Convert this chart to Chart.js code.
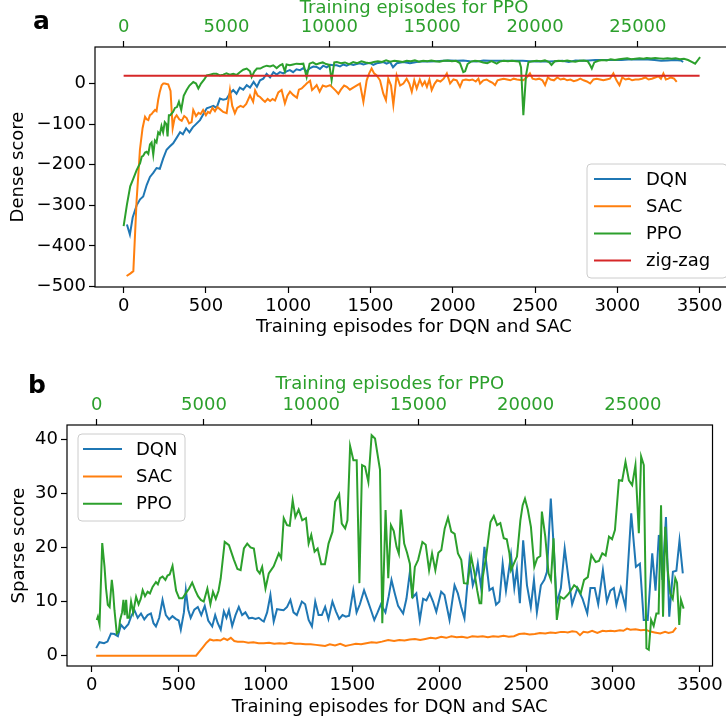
<!DOCTYPE html>
<html>
<head>
<meta charset="utf-8">
<script src="https://cdn.jsdelivr.net/npm/chart.js@4.4.0/dist/chart.umd.min.js"></script>
<style>
html, body { margin: 0; padding: 0; background: #fff; overflow: hidden; width: 726px; height: 721px; }
#denseChart { position: absolute; left: 0; top: 0; }
#sparseChart { position: absolute; left: 0; top: 360px; }
</style>
</head>
<body>
<canvas id="denseChart" width="740" height="340"></canvas>
<canvas id="sparseChart" width="726" height="361"></canvas>
<script>
// ---- panel a : dense score ----
const denseDqnEpisodes = [
  20, 38, 55, 79, 100, 119, 140, 160, 180, 200,
  220, 240, 261, 280, 301, 320, 343, 360, 380, 400,
  420, 440, 464, 485, 505, 525, 545, 565, 585, 605,
  625, 645, 666, 686, 706, 727, 748, 768, 790, 810,
  829, 849, 869, 890, 910, 930, 950, 970, 990, 1010,
  1030, 1050, 1072, 1092, 1112, 1133, 1153, 1173, 1193, 1213,
  1234, 1255, 1275, 1295, 1315, 1335, 1355, 1375, 1396, 1416,
  1436, 1457, 1477, 1497, 1517, 1538, 1558, 1578, 1598, 1619,
  1637, 1660, 1700, 1740, 1780, 1820, 1860, 1900, 1940, 1984,
  2024, 2064, 2104, 2145, 2186, 2226, 2266, 2306, 2346, 2386,
  2426, 2466, 2506, 2546, 2586, 2626, 2666, 2706, 2746, 2786,
  2826, 2866, 2906, 2946, 2986, 3026, 3066, 3106, 3146, 3186,
  3226, 3266, 3306, 3346, 3386, 3400
];
const denseDqnScore = [
  -347, -372, -330, -300, -285, -278, -250, -230, -220, -208,
  -210, -185, -163, -155, -147, -135, -120, -125, -110, -120,
  -108, -100, -90, -75, -61, -58, -55, -60, -37, -40,
  -38, -25, -16, -25, -10, -15, -4, -10, 4, -8,
  8, 12, 24, 15, 28, 22, 28, 25, 30, 33,
  28, 35, 33, 38, 30, 38, 42, 41, 36, 44,
  40, 46, 45, 45, 42, 47, 44, 48, 46, 48,
  50, 47, 49, 51, 46, 50, 51, 53, 49, 53,
  40, 50, 53, 50, 53, 55, 54, 55, 56, 57,
  56, 57, 55, 54, 57, 56, 56, 56, 56, 56,
  56, 55, 54, 55, 54, 55, 56, 53, 57, 56,
  57, 58, 58, 58, 58, 58, 59, 59, 59, 59,
  58, 56, 57, 58, 57, 53
];
const denseSacEpisodes = [
  18, 40, 59, 79, 90, 99, 115, 130, 140, 150,
  160, 170, 180, 191, 200, 210, 220, 231, 241, 251,
  261, 271, 285, 298, 310, 322, 338, 353, 368, 383,
  398, 413, 423, 440, 455, 468, 483, 500, 512, 524,
  540, 555, 570, 585, 605, 626, 646, 660, 676, 690,
  710, 727, 745, 768, 787, 799, 815, 829, 845, 859,
  875, 890, 905, 920, 940, 960, 980, 995, 1011, 1030,
  1053, 1065, 1082, 1100, 1112, 1133, 1145, 1160, 1173, 1191,
  1210, 1230, 1255, 1270, 1290, 1305, 1320, 1340, 1356, 1375,
  1395, 1415, 1436, 1457, 1477, 1492, 1507, 1522, 1538, 1558,
  1578, 1594, 1608, 1625, 1639, 1659, 1680, 1700, 1720, 1736,
  1751, 1766, 1781, 1800, 1815, 1830, 1843, 1858, 1872, 1890,
  1905, 1925, 1945, 1964, 1984, 2004, 2024, 2044, 2060, 2080,
  2100, 2120, 2140, 2156, 2166, 2186, 2206, 2226, 2242, 2257,
  2272, 2290, 2310, 2330, 2350, 2370, 2390, 2410, 2429, 2449,
  2469, 2485, 2505, 2525, 2545, 2561, 2578, 2595, 2615, 2635,
  2655, 2675, 2695, 2715, 2735, 2755, 2775, 2795, 2815, 2835,
  2855, 2875, 2895, 2915, 2935, 2955, 2976, 2995, 3013, 3030,
  3050, 3070, 3090, 3110, 3130, 3150, 3170, 3190, 3210, 3230,
  3250, 3265, 3280, 3295, 3310, 3325, 3345, 3361
];
const denseSacScore = [
  -474, -468, -462, -286, -220, -163, -110, -82, -88, -90,
  -78, -75, -70, -65, -68, -40, -20, -4, 0, 0,
  -1, -2, -18, -110, -85, -78, -88, -92, -80, -85,
  -98, -95, -65, -80, -72, -75, -65, -78, -70, -73,
  -60, -68, -58, -63, -70, -73, -16, -55, -73, -60,
  -55, -58, -50, -29, -45, -17, -30, -33, -40, -45,
  -38, -43, -38, -42, -22, -16, -49, -30, -20, -28,
  -35, -15, -12, -5, 0, 7, -16, -10, -4, -20,
  -5, -8, -4, -10, -18, -25, -15, -5, -8, -15,
  -10, -5, 0, -45, 8, 25, 37, 25, 20, 8,
  -25, -41, 12, -5, -53, 20, -5, 0, 12, 0,
  -20, 8, -12, 10, -5, 5, -8, 10, -16, 0,
  8, 5, 12, 25, 0, 10, 8, -8, 8, 10,
  8, 10, 5, 12, 0, 8, 10, 5, 2, -4,
  8, 10, 12, 10, 8, 12, 10, 9, 8, 15,
  25, 12, 10, 12, 8, -4, 15, 10, 8, 15,
  10, 12, 8, 10, 6, 8, 12, 8, 5, 0,
  10, 12, 10, 8, 10, 12, 25, 8, -4, 15,
  10, 12, 8, 10, 10, 12, 15, 10, 12, 15,
  18, 12, 25, 10, 12, 15, 12, 4
];
// PPO is plotted against its own (top) axis
const densePpoEpisodes = [
  0, 160, 320, 472, 632, 800, 880, 952, 1040, 1120,
  1200, 1280, 1360, 1440, 1520, 1600, 1680, 1760, 1840, 1920,
  2000, 2080, 2136, 2200, 2264, 2400, 2496, 2592, 2688, 2800,
  2920, 3064, 3200, 3384, 3520, 3632, 3760, 3920, 4040, 4200,
  4360, 4520, 4680, 4840, 5000, 5160, 5328, 5488, 5648, 5816,
  5984, 6144, 6224, 6360, 6480, 6640, 6792, 6960, 7120, 7272,
  7440, 7600, 7720, 7840, 7920, 8080, 8240, 8400, 8576, 8736,
  8896, 9040, 9200, 9360, 9520, 9680, 9840, 10000, 10112, 10240,
  10368, 10560, 10760, 10960, 11160, 11360, 11560, 11760, 11960, 12160,
  12360, 12560, 12760, 12960, 13160, 13360, 13560, 13760, 13960, 14160,
  14360, 14560, 14760, 14960, 15160, 15360, 15560, 15760, 15960, 16160,
  16352, 16512, 16600, 16720, 16880, 17080, 17280, 17480, 17680, 17880,
  18136, 18280, 18480, 18680, 18880, 19080, 19240, 19320, 19432, 19560,
  19680, 19880, 20080, 20280, 20480, 20680, 20800, 20960, 21160, 21360,
  21560, 21760, 21960, 22160, 22360, 22560, 22680, 22760, 22880, 23080,
  23280, 23480, 23680, 23880, 24080, 24280, 24480, 24680, 24880, 25080,
  25280, 25432, 25640, 25840, 26040, 26240, 26440, 26640, 26840, 27040,
  27240, 27440, 27640, 27784, 27920, 28024
];
const densePpoScore = [
  -351, -298, -253, -234, -213, -196, -180, -178, -170, -168,
  -173, -150, -145, -175, -140, -145, -120, -125, -105, -120,
  -95, -100, -130, -78, -78, -70, -60, -58, -45, -65,
  -30, -16, -5, 4, 0, -12, 0, 10, 20, 22,
  24, 24, 20, 22, 25, 22, 24, 21, 28, 34,
  37, 30, 16, 30, 37, 37, 41, 44, 42, 45,
  38, 45, 48, 30, 47, 45, 47, 49, 48, 49,
  16, 49, 52, 47, 50, 52, 48, 46, 8, 52,
  53, 50, 52, 48, 53, 50, 55, 52, 50, 53,
  55, 53, 57, 54, 56, 55, 53, 56, 55, 57,
  54, 56, 55, 57, 55, 54, 56, 57, 55, 56,
  50, 28, 30, 48, 54, 56, 55, 52, 50, 55,
  49, 54, 56, 55, 56, 55, 54, 40, -78, 20,
  53, 55, 56, 55, 57, 53, 46, 55, 56, 55,
  57, 55, 54, 56, 57, 55, 45, 37, 52, 56,
  58, 57, 60, 58, 60, 61, 62, 60, 61, 62,
  61, 63, 62, 63, 62, 61, 62, 61, 62, 60,
  61, 58, 53, 49, 58, 65
];
const zigzagEpisodes = [0, 3500];
const zigzagScore = [19, 19];

const denseYTicks = [-500, -400, -300, -200, -100, 0];

// ---- panel b : sparse score ----
const sparseDqnEpisodes = [
  25, 44, 70, 90, 110, 130, 150, 168, 187, 210,
  226, 245, 264, 283, 302, 321, 340, 355, 369, 388,
  407, 426, 445, 464, 483, 500, 512, 530, 541, 555,
  569, 590, 610, 630, 650, 670, 693, 710, 725, 742,
  760, 775, 789, 808, 827, 846, 865, 884, 904, 923,
  942, 961, 980, 990, 1009, 1028, 1047, 1066, 1085, 1104,
  1124, 1143, 1161, 1180, 1209, 1228, 1248, 1267, 1286, 1305,
  1324, 1343, 1362, 1385, 1405, 1424, 1443, 1462, 1481, 1505,
  1524, 1543, 1567, 1590, 1609, 1626, 1645, 1664, 1690, 1709,
  1725, 1744, 1763, 1792, 1811, 1830, 1849, 1868, 1888, 1907,
  1926, 1945, 1964, 1983, 2011, 2030, 2059, 2088, 2107, 2126,
  2145, 2174, 2193, 2212, 2222, 2241, 2260, 2289, 2308, 2327,
  2346, 2365, 2384, 2413, 2432, 2447, 2464, 2483, 2505, 2527,
  2545, 2562, 2585, 2605, 2620, 2642, 2660, 2676, 2700, 2722,
  2745, 2765, 2795, 2825, 2852, 2870, 2895, 2915, 2942, 2965,
  2985, 3005, 3020, 3045, 3072, 3105, 3132, 3155, 3177, 3200,
  3226, 3245, 3264, 3285, 3305, 3324, 3345, 3365, 3383, 3402
];
const sparseDqnScore = [
  1.4, 2.5, 2.3, 2.6, 4.1, 4.0, 3.6, 5.7, 5.0, 5.8,
  7.2, 8.4, 7.0, 7.8, 6.7, 7.5, 7.8, 6.0, 5.4, 7.0,
  10.3, 7.5, 6.7, 7.3, 6.8, 6.5, 4.8, 8.0, 12.1, 8.5,
  7.0, 8.5, 9.0, 7.5, 9.2, 6.5, 5.4, 7.5, 6.0, 4.8,
  8.2, 7.0, 8.4, 5.5, 7.5, 9.0, 7.5, 8.0, 6.9, 7.0,
  6.8, 7.0, 6.5, 6.3, 8.0, 11.2, 6.3, 8.6, 8.5, 8.4,
  9.0, 10.3, 8.0, 7.5, 10.0, 9.5, 6.6, 5.4, 10.0, 7.5,
  7.5, 9.0, 6.8, 10.0, 8.2, 6.8, 7.5, 7.2, 7.4, 12.1,
  8.0, 9.5, 12.1, 10.0, 8.2, 6.6, 8.0, 9.5, 8.0, 11.0,
  14.0, 11.5, 9.2, 7.8, 10.5, 15.2, 10.8, 11.5, 6.6, 10.5,
  10.2, 11.5, 10.0, 8.1, 11.8, 11.2, 6.6, 13.0, 11.5, 9.0,
  6.9, 17.7, 13.0, 15.0, 17.0, 12.5, 20.1, 12.1, 12.5, 9.4,
  10.0, 17.0, 12.0, 18.6, 12.5, 16.0, 9.7, 21.3, 13.0, 9.0,
  14.0, 8.0, 13.0, 14.0, 15.5, 29.0, 19.5, 9.7, 12.5, 19.8,
  14.0, 9.5, 12.5, 10.5, 7.8, 12.5, 12.5, 9.5, 15.8, 10.0,
  12.0, 12.5, 9.4, 12.5, 9.0, 26.3, 16.4, 17.0, 6.6, 6.6,
  18.9, 12.0, 22.3, 14.0, 25.6, 7.2, 15.5, 15.7, 21.3, 15.2
];
const sparseSacEpisodes = [
  25, 600, 620, 640, 660, 680, 700, 720, 740, 760,
  780, 800, 820, 840, 870, 900, 930, 960, 990, 1020,
  1050, 1080, 1110, 1140, 1170, 1200, 1230, 1260, 1290, 1320,
  1343, 1370, 1400, 1430, 1460, 1490, 1520, 1550, 1580, 1610,
  1640, 1670, 1706, 1740, 1770, 1800, 1830, 1860, 1890, 1920,
  1950, 1980, 2011, 2040, 2070, 2100, 2130, 2160, 2190, 2222,
  2250, 2280, 2310, 2340, 2370, 2400, 2430, 2460, 2489, 2520,
  2550, 2580, 2610, 2640, 2670, 2700, 2719, 2740, 2765, 2790,
  2810, 2830, 2855, 2880, 2910, 2940, 2960, 2986, 3010, 3040,
  3060, 3081, 3100, 3130, 3160, 3190, 3210, 3240, 3272, 3300,
  3320, 3345, 3364
];
const sparseSacScore = [
  0, 0, 0.8, 1.6, 2.4, 3.0, 2.8, 2.9, 2.8, 3.2,
  2.9, 3.3, 2.7, 2.6, 2.6, 2.4, 2.5, 2.3, 2.3, 2.4,
  2.2, 2.3, 2.2, 2.4, 2.2, 2.2, 2.1, 2.1, 2.0, 1.9,
  1.8, 2.1, 1.9, 2.2, 1.8, 2.0, 2.2, 2.1, 2.3, 2.5,
  2.4, 2.6, 2.9, 2.7, 2.9, 2.8, 3.0, 3.1, 2.9, 3.1,
  3.3, 3.2, 3.5, 3.3, 3.6, 3.4, 3.5, 3.3, 3.6, 3.5,
  3.6, 3.4, 3.6, 3.5, 3.7, 3.5, 3.6, 4.0, 4.1, 3.9,
  4.0, 4.2, 4.1, 4.3, 4.2, 4.4, 4.4, 4.3, 4.5, 4.4,
  3.8, 4.4, 4.3, 4.6, 4.2, 4.6, 4.5, 4.6, 4.5, 4.7,
  4.6, 5.0, 4.8, 4.9, 4.7, 4.8, 4.5, 4.3, 4.1, 4.4,
  4.2, 4.4, 5.2
];
const sparsePpoEpisodes = [
  0, 51, 130, 255, 362, 430, 515, 600, 701, 760,
  826, 934, 1026, 1088, 1180, 1244, 1300, 1370, 1430, 1510,
  1600, 1700, 1834, 1950, 2050, 2140, 2250, 2370, 2480, 2604,
  2759, 2850, 2950, 3069, 3200, 3300, 3400, 3533, 3700, 3844,
  4000, 4150, 4308, 4450, 4600, 4720, 4851, 4990, 5158, 5300,
  5420, 5550, 5680, 5780, 5966, 6165, 6397, 6560, 6708, 6862,
  7017, 7170, 7326, 7481, 7600, 7713, 7868, 8022, 8250, 8487,
  8600, 8719, 8872, 9000, 9136, 9262, 9415, 9580, 9756, 9879,
  10003, 10158, 10300, 10468, 10640, 10808, 10994, 11118, 11304, 11425,
  11583, 11690, 11814, 11968, 12121, 12247, 12372, 12511, 12665, 12818,
  12976, 13208, 13315, 13468, 13593, 13718, 13850, 13979, 14087, 14183,
  14336, 14470, 14601, 14708, 14833, 14986, 15185, 15340, 15497, 15636,
  15789, 15930, 16068, 16226, 16379, 16532, 16690, 16843, 16997, 17122,
  17290, 17461, 17618, 17739, 17851, 17930, 18004, 18156, 18361, 18514,
  18669, 18820, 18979, 19120, 19243, 19318, 19450, 19596, 19754, 19861,
  19968, 20100, 20246, 20404, 20540, 20683, 20757, 20915, 21068, 21180,
  21300, 21454, 21611, 21780, 21950, 22100, 22261, 22420, 22568, 22725,
  22900, 23064, 23264, 23420, 23575, 23730, 23886, 24030, 24164, 24350,
  24500, 24656, 24814, 24967, 25120, 25278, 25385, 25510, 25633, 25743,
  25850, 25970, 26096, 26200, 26314, 26407, 26513, 26625, 26745, 26860,
  26978, 27060, 27163, 27242, 27368
];
const sparsePpoScore = [
  6.6, 7.2, 5.8, 20.8, 16.4, 12.5, 9.4, 9.0, 14.0, 12.0,
  8.4, 4.1, 4.5, 6.6, 8.0, 10.3, 7.5, 10.3, 7.0, 7.0,
  10.0, 8.0, 10.9, 9.5, 10.5, 12.1, 11.0, 11.8, 11.5, 12.7,
  13.6, 13.2, 14.3, 14.6, 14.0, 14.8, 15.0, 16.6, 12.0, 10.6,
  10.6, 11.5, 12.4, 13.5, 12.0, 11.0, 10.3, 10.0, 12.4, 9.5,
  11.8, 10.5, 12.0, 14.3, 21.0, 20.4, 17.7, 16.0, 15.8, 19.8,
  20.7, 20.0, 19.8, 15.8, 15.2, 16.4, 12.4, 15.2, 16.5, 18.9,
  18.0, 25.4, 24.1, 24.0, 28.7, 25.6, 27.0, 25.0, 25.4, 20.7,
  22.3, 19.2, 19.8, 16.9, 16.9, 20.7, 22.9, 28.4, 29.8, 24.4,
  23.5, 25.0, 38.7, 36.1, 36.1, 13.4, 35.2, 34.9, 32.1, 40.7,
  40.1, 34.3, 6.0, 26.9, 14.3, 24.1, 23.0, 20.1, 18.8, 27.0,
  20.7, 19.0, 17.0, 10.6, 16.4, 17.7, 21.0, 20.5, 15.8, 18.9,
  15.8, 19.0, 19.5, 23.5, 25.5, 22.9, 22.5, 18.9, 17.7, 13.4,
  13.3, 18.3, 15.2, 12.1, 9.7, 9.7, 14.6, 18.3, 24.7, 25.8,
  24.1, 24.5, 21.7, 21.5, 18.9, 15.8, 17.0, 18.3, 25.0, 27.8,
  29.0, 27.0, 23.8, 16.4, 18.0, 18.4, 26.6, 22.0, 15.2, 14.0,
  21.7, 6.6, 10.9, 10.5, 11.2, 12.0, 13.0, 12.5, 11.5, 14.0,
  14.5, 18.6, 17.3, 17.5, 18.9, 18.5, 22.0, 21.5, 23.2, 32.4,
  32.3, 35.8, 32.4, 31.5, 35.2, 22.6, 36.8, 35.2, 1.4, 1.1,
  6.6, 5.5, 7.8, 7.8, 27.8, 7.2, 23.8, 15.8, 11.5, 10.5,
  14.3, 13.5, 5.7, 10.3, 8.7
];
const sparseYTicks = [0, 10, 20, 30, 40];

const episodeTicks = [0, 500, 1000, 1500, 2000, 2500, 3000, 3500];
const ppoTicks = [0, 5000, 10000, 15000, 20000, 25000];

const BLUE = '#1f77b4', ORANGE = '#ff7f0e', GREEN = '#2ca02c', RED = '#d62728';

Chart.defaults.font.family = 'DejaVu Sans';
Chart.defaults.font.size = 18;
Chart.defaults.color = '#000';

function series(label, xs, ys, color, axis, order) {
  return {
    label: label,
    data: xs.map((x, i) => ({ x: x, y: ys[i] })),
    borderColor: color,
    backgroundColor: color,
    borderWidth: 2,
    pointRadius: 0,
    tension: 0,
    xAxisID: axis,
    order: order
  };
}

// fixed tick positions and fixed axis box sizes
const useTicks = values => scale => { scale.ticks = values.map(v => ({ value: v })); };
const boxSize = (prop, size) => scale => { scale[prop] = size; };
const fmt = v => String(v).replace('-', '\u2212');

function axis(position, min, max, ticks, size, title, color, titlePad) {
  const horizontal = position === 'top' || position === 'bottom';
  return {
    type: 'linear',
    position: position,
    min: min,
    max: max,
    afterBuildTicks: useTicks(ticks),
    afterFit: boxSize(horizontal ? 'height' : 'width', size),
    border: { display: false },
    grid: { drawOnChartArea: false, drawTicks: true, tickLength: 6, tickColor: '#000', tickWidth: 1.2 },
    ticks: { color: color, padding: 3, autoSkip: false, maxRotation: 0, callback: fmt },
    title: { display: true, text: title, color: color, font: { size: 18, lineHeight: 1.2 }, padding: titlePad }
  };
}

// frame, legend and panel letter
const decorPlugin = {
  id: 'decor',
  afterDatasetsDraw(chart, args, opts) {
    const ctx = chart.ctx;
    const a = chart.chartArea;
    ctx.save();
    ctx.strokeStyle = '#000';
    ctx.lineWidth = 1.2;
    ctx.strokeRect(a.left, a.top, a.right - a.left, a.bottom - a.top);

    const lg = opts.legend;
    ctx.beginPath();
    if (ctx.roundRect) ctx.roundRect(lg.x, lg.y, lg.w, lg.h, 4);
    else ctx.rect(lg.x, lg.y, lg.w, lg.h);
    ctx.fillStyle = 'rgba(255,255,255,0.8)';
    ctx.fill();
    ctx.strokeStyle = '#cccccc';
    ctx.lineWidth = 1;
    ctx.stroke();
    ctx.font = '18px "DejaVu Sans"';
    ctx.textBaseline = 'middle';
    ctx.textAlign = 'left';
    chart.data.datasets.forEach((ds, i) => {
      const y = lg.y0 + i * lg.dy;
      ctx.strokeStyle = ds.borderColor;
      ctx.lineWidth = 2;
      ctx.beginPath();
      ctx.moveTo(lg.lx0, y);
      ctx.lineTo(lg.lx1, y);
      ctx.stroke();
      ctx.fillStyle = '#000';
      ctx.fillText(ds.label, lg.tx, y + 1);
    });

    ctx.font = 'bold 25px "DejaVu Sans"';
    ctx.textBaseline = 'alphabetic';
    ctx.fillStyle = '#000';
    ctx.fillText(opts.panel, opts.px, opts.py);
    ctx.restore();
  }
};

new Chart(document.getElementById('denseChart').getContext('2d'), {
  type: 'line',
  data: {
    datasets: [
      series('DQN', denseDqnEpisodes, denseDqnScore, BLUE, 'x', 4),
      series('SAC', denseSacEpisodes, denseSacScore, ORANGE, 'x', 3),
      series('PPO', densePpoEpisodes, densePpoScore, GREEN, 'x2', 2),
      series('zig-zag', zigzagEpisodes, zigzagScore, RED, 'x', 1)
    ]
  },
  options: {
    responsive: false,
    animation: false,
    layout: { padding: { left: 0, right: 7, top: 0, bottom: 0 } },
    scales: {
      x: axis('bottom', -174, 3703, episodeTicks, 53, 'Training episodes for DQN and SAC', '#000', { top: 0, bottom: 2 }),
      x2: axis('top', -1392, 29624, ppoTicks, 47, 'Training episodes for PPO', GREEN, { top: -2, bottom: 0 }),
      y: axis('left', -501, 90, denseYTicks, 95, 'Dense score', '#000', { top: 8, bottom: 0 })
    },
    plugins: {
      legend: { display: false },
      tooltip: { enabled: false },
      decor: {
        panel: 'a', px: 33, py: 29,
        legend: { x: 587, y: 164, w: 140, h: 114, y0: 179, dy: 27.2, lx0: 594, lx1: 631, tx: 646 }
      }
    }
  },
  plugins: [decorPlugin]
});

new Chart(document.getElementById('sparseChart').getContext('2d'), {
  type: 'line',
  data: {
    datasets: [
      series('DQN', sparseDqnEpisodes, sparseDqnScore, BLUE, 'x', 3),
      series('SAC', sparseSacEpisodes, sparseSacScore, ORANGE, 'x', 2),
      series('PPO', sparsePpoEpisodes, sparsePpoScore, GREEN, 'x2', 1)
    ]
  },
  options: {
    responsive: false,
    animation: false,
    layout: { padding: { left: 0, right: 10, top: 0, bottom: 0 } },
    scales: {
      x: axis('bottom', -143, 3573, episodeTicks, 55, 'Training episodes for DQN and SAC', '#000', { top: 0, bottom: 3 }),
      x2: axis('top', -1388, 28714, ppoTicks, 65, 'Training episodes for PPO', GREEN, { top: 14, bottom: 0 }),
      y: axis('left', -1.9, 42.6, sparseYTicks, 67, 'Sparse score', '#000', { top: 9, bottom: 0 })
    },
    plugins: {
      legend: { display: false },
      tooltip: { enabled: false },
      decor: {
        panel: 'b', px: 28, py: 33,
        legend: { x: 78, y: 74, w: 107, h: 87, y0: 89, dy: 27.4, lx0: 83, lx1: 122, tx: 136 }
      }
    }
  },
  plugins: [decorPlugin]
});
</script>
</body>
</html>
